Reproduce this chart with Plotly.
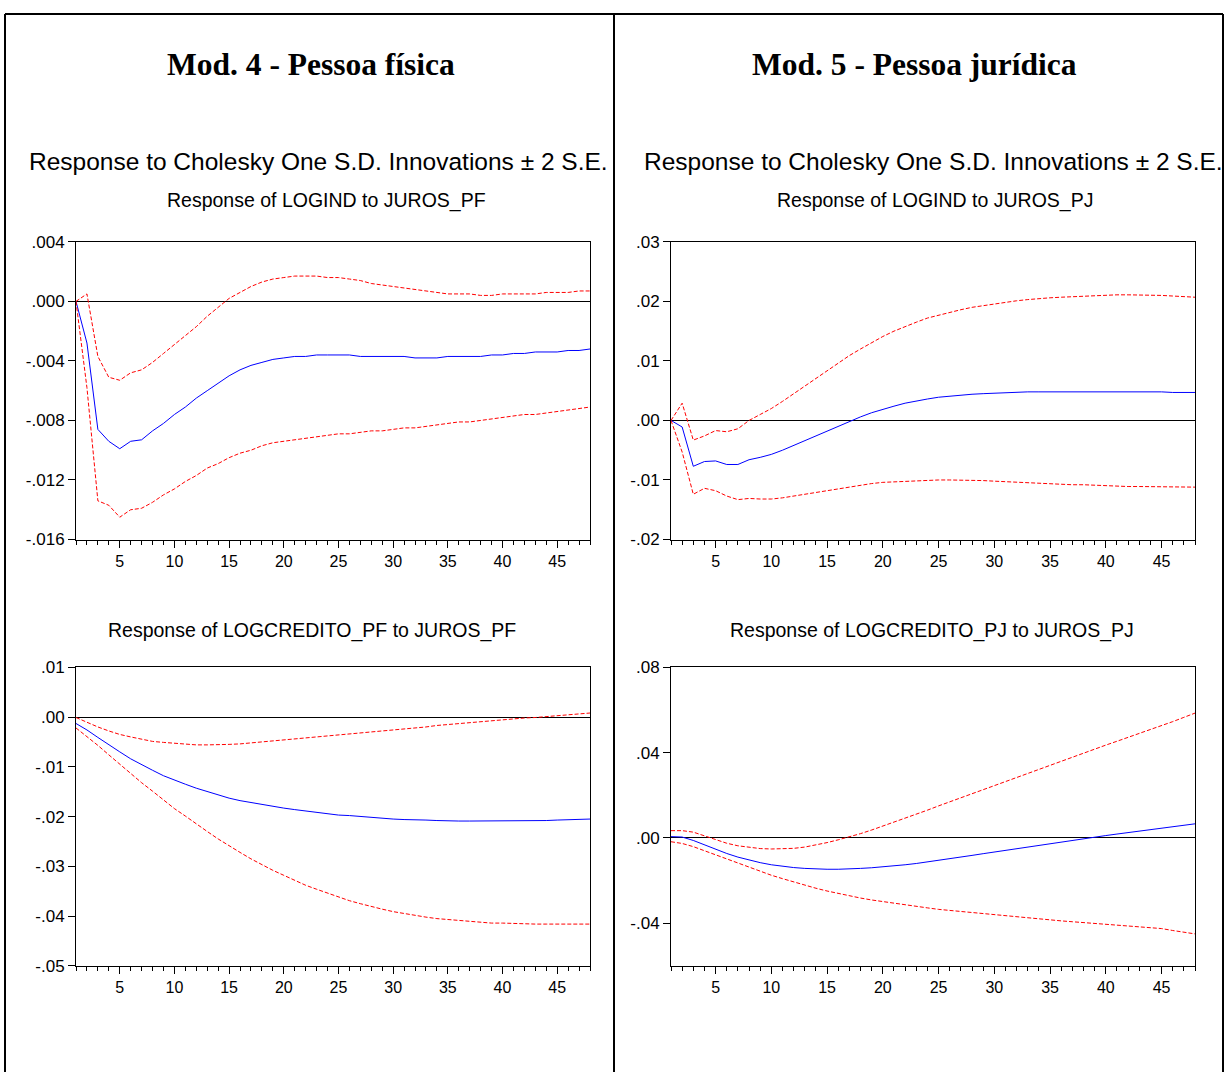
import plotly.graph_objects as go

# ---------------- data ----------------
periods = list(range(1, 49))

# Mod. 4 - Response of LOGIND to JUROS_PF
logind_pf = [0.0000, -0.0028, -0.0086, -0.0094, -0.0099, -0.0094, -0.0093, -0.0087, -0.0082, -0.0076,
             -0.0071, -0.0065, -0.0060, -0.0055, -0.0050, -0.0046, -0.0043, -0.0041, -0.0039, -0.0038,
             -0.0037, -0.0037, -0.0036, -0.0036, -0.0036, -0.0036, -0.0037, -0.0037, -0.0037, -0.0037,
             -0.0037, -0.0038, -0.0038, -0.0038, -0.0037, -0.0037, -0.0037, -0.0037, -0.0036, -0.0036,
             -0.0035, -0.0035, -0.0034, -0.0034, -0.0034, -0.0033, -0.0033, -0.0032]
logind_pf_up = [0.0000, 0.0005, -0.0037, -0.0051, -0.0053, -0.0048, -0.0046, -0.0041, -0.0035, -0.0029,
                -0.0023, -0.0017, -0.0010, -0.0004, 0.0002, 0.0006, 0.0010, 0.0013, 0.0015, 0.0016,
                0.0017, 0.0017, 0.0017, 0.0016, 0.0016, 0.0015, 0.0014, 0.0012, 0.0011, 0.0010,
                0.0009, 0.0008, 0.0007, 0.0006, 0.0005, 0.0005, 0.0005, 0.0004, 0.0004, 0.0005,
                0.0005, 0.0005, 0.0005, 0.0006, 0.0006, 0.0006, 0.0007, 0.0007]
logind_pf_lo = [0.0000, -0.0058, -0.0134, -0.0137, -0.0145, -0.0140, -0.0139, -0.0135, -0.0130, -0.0126,
                -0.0121, -0.0117, -0.0112, -0.0109, -0.0105, -0.0102, -0.0100, -0.0097, -0.0095, -0.0094,
                -0.0093, -0.0092, -0.0091, -0.0090, -0.0089, -0.0089, -0.0088, -0.0087, -0.0087, -0.0086,
                -0.0085, -0.0085, -0.0084, -0.0083, -0.0082, -0.0081, -0.0081, -0.0080, -0.0079, -0.0078,
                -0.0077, -0.0076, -0.0076, -0.0075, -0.0074, -0.0073, -0.0072, -0.0071]

# Mod. 5 - Response of LOGIND to JUROS_PJ
logind_pj = [0.0000, -0.0011, -0.0077, -0.0069, -0.0068, -0.0074, -0.0074, -0.0066, -0.0062, -0.0057,
             -0.0050, -0.0042, -0.0034, -0.0026, -0.0018, -0.0009, -0.0001, 0.0006, 0.0013, 0.0019,
             0.0024, 0.0029, 0.0033, 0.0036, 0.0039, 0.0041, 0.0043, 0.0044, 0.0045, 0.0046,
             0.0047, 0.0047, 0.0048, 0.0048, 0.0048, 0.0048, 0.0049, 0.0049, 0.0049, 0.0049,
             0.0048, 0.0048, 0.0048, 0.0048, 0.0048, 0.0047, 0.0047, 0.0047]
logind_pj_up = [0.0000, 0.0029, -0.0033, -0.0026, -0.0017, -0.0019, -0.0014, 0.0000, 0.0010, 0.0020,
                0.0032, 0.0045, 0.0058, 0.0071, 0.0084, 0.0097, 0.0109, 0.0120, 0.0131, 0.0141,
                0.0150, 0.0158, 0.0165, 0.0172, 0.0177, 0.0182, 0.0186, 0.0190, 0.0193, 0.0196,
                0.0199, 0.0201, 0.0203, 0.0205, 0.0206, 0.0207, 0.0208, 0.0209, 0.0210, 0.0210,
                0.0211, 0.0211, 0.0211, 0.0210, 0.0210, 0.0209, 0.0208, 0.0207]
logind_pj_lo = [0.0000, -0.0053, -0.0124, -0.0114, -0.0118, -0.0127, -0.0133, -0.0131, -0.0132, -0.0132,
                -0.0130, -0.0127, -0.0124, -0.0121, -0.0117, -0.0114, -0.0111, -0.0109, -0.0106, -0.0104,
                -0.0103, -0.0102, -0.0101, -0.0100, -0.0100, -0.0100, -0.0100, -0.0101, -0.0101, -0.0102,
                -0.0103, -0.0104, -0.0104, -0.0105, -0.0106, -0.0107, -0.0108, -0.0108, -0.0109, -0.0110,
                -0.0110, -0.0111, -0.0111, -0.0111, -0.0112, -0.0112, -0.0112, -0.0112]

# Mod. 4 - Response of LOGCREDITO_PF to JUROS_PF
credito_pf = [-0.0013, -0.0026, -0.0041, -0.0056, -0.0070, -0.0084, -0.0096, -0.0107, -0.0118, -0.0127,
              -0.0135, -0.0143, -0.0150, -0.0157, -0.0163, -0.0168, -0.0172, -0.0176, -0.0180, -0.0183,
              -0.0186, -0.0189, -0.0192, -0.0194, -0.0197, -0.0198, -0.0200, -0.0202, -0.0203, -0.0205,
              -0.0206, -0.0206, -0.0207, -0.0208, -0.0209, -0.0209, -0.0209, -0.0209, -0.0209, -0.0209,
              -0.0209, -0.0208, -0.0208, -0.0208, -0.0207, -0.0206, -0.0206, -0.0205]
credito_pf_up = [-0.0001, -0.0011, -0.0020, -0.0028, -0.0035, -0.0040, -0.0045, -0.0049, -0.0051, -0.0053,
                 -0.0055, -0.0056, -0.0056, -0.0056, -0.0055, -0.0054, -0.0052, -0.0050, -0.0049, -0.0047,
                 -0.0045, -0.0043, -0.0041, -0.0039, -0.0037, -0.0035, -0.0033, -0.0030, -0.0028, -0.0026,
                 -0.0024, -0.0022, -0.0020, -0.0017, -0.0015, -0.0013, -0.0011, -0.0009, -0.0007, -0.0006,
                 -0.0004, -0.0002, -0.0001, 0.0001, 0.0003, 0.0005, 0.0006, 0.0008]
credito_pf_lo = [-0.0022, -0.0039, -0.0057, -0.0076, -0.0095, -0.0113, -0.0132, -0.0149, -0.0167, -0.0184,
                 -0.0199, -0.0215, -0.0230, -0.0245, -0.0259, -0.0272, -0.0285, -0.0297, -0.0308, -0.0318,
                 -0.0328, -0.0338, -0.0346, -0.0354, -0.0362, -0.0369, -0.0375, -0.0381, -0.0386, -0.0391,
                 -0.0395, -0.0399, -0.0402, -0.0405, -0.0407, -0.0409, -0.0411, -0.0413, -0.0414, -0.0414,
                 -0.0415, -0.0415, -0.0416, -0.0416, -0.0416, -0.0416, -0.0416, -0.0416]

# Mod. 5 - Response of LOGCREDITO_PJ to JUROS_PJ
credito_pj = [0.0006, 0.0004, -0.0012, -0.0033, -0.0054, -0.0073, -0.0090, -0.0104, -0.0116, -0.0126,
              -0.0133, -0.0139, -0.0143, -0.0146, -0.0147, -0.0147, -0.0146, -0.0143, -0.0140, -0.0136,
              -0.0131, -0.0126, -0.0120, -0.0113, -0.0106, -0.0098, -0.0090, -0.0082, -0.0074, -0.0066,
              -0.0058, -0.0050, -0.0042, -0.0035, -0.0027, -0.0019, -0.0012, -0.0004, 0.0003, 0.0011,
              0.0018, 0.0025, 0.0032, 0.0039, 0.0045, 0.0052, 0.0059, 0.0066]
credito_pj_up = [0.0034, 0.0034, 0.0027, 0.0010, -0.0010, -0.0025, -0.0037, -0.0045, -0.0050, -0.0052,
                 -0.0052, -0.0049, -0.0043, -0.0034, -0.0022, -0.0009, 0.0005, 0.0020, 0.0037, 0.0055,
                 0.0073, 0.0092, 0.0111, 0.0130, 0.0150, 0.0169, 0.0189, 0.0209, 0.0228, 0.0248,
                 0.0267, 0.0286, 0.0305, 0.0324, 0.0343, 0.0362, 0.0380, 0.0399, 0.0417, 0.0435,
                 0.0453, 0.0471, 0.0489, 0.0507, 0.0525, 0.0545, 0.0565, 0.0585]
credito_pj_lo = [-0.0018, -0.0026, -0.0041, -0.0060, -0.0080, -0.0100, -0.0120, -0.0138, -0.0157, -0.0175,
                 -0.0191, -0.0207, -0.0222, -0.0236, -0.0249, -0.0261, -0.0272, -0.0282, -0.0291, -0.0299,
                 -0.0307, -0.0315, -0.0322, -0.0328, -0.0335, -0.0340, -0.0346, -0.0351, -0.0356, -0.0362,
                 -0.0366, -0.0371, -0.0376, -0.0380, -0.0385, -0.0389, -0.0393, -0.0397, -0.0401, -0.0405,
                 -0.0409, -0.0413, -0.0417, -0.0421, -0.0425, -0.0434, -0.0441, -0.0450]

# tick values / labels
ytick_tl = [0.004, 0.0, -0.004, -0.008, -0.012, -0.016]
ytext_tl = [".004", ".000", "-.004", "-.008", "-.012", "-.016"]
ytick_tr = [0.03, 0.02, 0.01, 0.0, -0.01, -0.02]
ytext_tr = [".03", ".02", ".01", ".00", "-.01", "-.02"]
ytick_bl = [0.01, 0.0, -0.01, -0.02, -0.03, -0.04, -0.05]
ytext_bl = [".01", ".00", "-.01", "-.02", "-.03", "-.04", "-.05"]
ytick_br = [0.08, 0.04, 0.0, -0.04]
ytext_br = [".08", ".04", ".00", "-.04"]

titles_main = ["Mod. 4 - Pessoa física", "Mod. 5 - Pessoa jurídica"]
title_chol = "Response to Cholesky One S.D. Innovations ± 2 S.E."
subtitles = ["Response of LOGIND to JUROS_PF", "Response of LOGIND to JUROS_PJ",
             "Response of LOGCREDITO_PF to JUROS_PF", "Response of LOGCREDITO_PJ to JUROS_PJ"]

# ---------------- layout helpers ----------------
W, H = 1229, 1082
def px(x):
    return x / W
def py(y):
    return 1 - y / H

SANS = "Liberation Sans, Arial, sans-serif"
SERIF = "Liberation Serif, Times New Roman, serif"

panels = [
    (logind_pf, logind_pf_up, logind_pf_lo, (76, 590), (237, 540), (-0.016, 0.004), ytick_tl, ytext_tl),
    (logind_pj, logind_pj_up, logind_pj_lo, (671, 1195), (237, 540), (-0.02, 0.03), ytick_tr, ytext_tr),
    (credito_pf, credito_pf_up, credito_pf_lo, (76, 590), (670, 974), (-0.05, 0.01), ytick_bl, ytext_bl),
    (credito_pj, credito_pj_up, credito_pj_lo, (671, 1195), (670, 974), (-0.06, 0.08), ytick_br, ytext_br),
]

fig = go.Figure()
layout = dict(
    width=W, height=H,
    margin=dict(l=0, r=0, t=0, b=0),
    paper_bgcolor="white", plot_bgcolor="white",
    showlegend=False,
)

for i, (mid, up, lo, xd, yd, yr, yt, ytt) in enumerate(panels, start=1):
    xa = "x" if i == 1 else f"x{i}"
    ya = "y" if i == 1 else f"y{i}"
    for series, color, dash in ((mid, "#0000FF", "solid"), (up, "#FF0000", "4px,2px"), (lo, "#FF0000", "4px,2px")):
        fig.add_trace(go.Scatter(x=periods, y=series, mode="lines", xaxis=xa, yaxis=ya,
                                 line=dict(color=color, width=1, dash=dash), hoverinfo="skip"))
    xkey = "xaxis" if i == 1 else f"xaxis{i}"
    ykey = "yaxis" if i == 1 else f"yaxis{i}"
    layout[xkey] = dict(
        domain=[px(xd[0]), px(xd[1])], range=[1, 48], anchor=ya,
        showgrid=False, zeroline=False, showline=True, mirror=True,
        linecolor="black", linewidth=1,
        tickmode="linear", tick0=0, dtick=5, ticks="outside", ticklen=7, tickwidth=1, tickcolor="black",
        minor=dict(ticks="outside", ticklen=4, tickwidth=1, tickcolor="black", dtick=1, tick0=0, showgrid=False),
        tickfont=dict(family=SANS, size=16, color="black"),
    )
    layout[ykey] = dict(
        domain=[py(yd[1]), py(yd[0])], range=list(yr), anchor=xa,
        showgrid=False, zeroline=True, zerolinecolor="black", zerolinewidth=1,
        showline=True, mirror=True, linecolor="black", linewidth=1,
        tickmode="array", tickvals=yt, ticktext=ytt,
        ticks="outside", ticklen=7, tickwidth=1, tickcolor="black",
        tickfont=dict(family=SANS, size=17, color="black"),
    )

annotations = []
for txt, cx in zip(titles_main, (311, 914)):
    annotations.append(dict(text=f"<b>{txt}</b>", x=px(cx), y=py(56), xref="paper", yref="paper",
                            showarrow=False, xanchor="center", yanchor="middle",
                            font=dict(family=SERIF, size=31.5, color="black")))
for cx in (318, 933):
    annotations.append(dict(text=title_chol, x=px(cx), y=py(155), xref="paper", yref="paper",
                            showarrow=False, xanchor="center", yanchor="middle",
                            font=dict(family=SANS, size=24.5, color="black")))
for txt, (cx, cy) in zip(subtitles, ((326, 195), (935, 195), (312, 633), (932, 633))):
    annotations.append(dict(text=txt, x=px(cx), y=py(cy), xref="paper", yref="paper",
                            showarrow=False, xanchor="center", yanchor="middle",
                            font=dict(family=SANS, size=19.5, color="black")))
layout["annotations"] = annotations

line = dict(color="black", width=2)
layout["shapes"] = [
    dict(type="line", xref="paper", yref="paper", x0=px(5), x1=px(5), y0=py(5), y1=0, line=line),
    dict(type="line", xref="paper", yref="paper", x0=px(5), x1=px(1223), y0=py(5), y1=py(5), line=line),
    dict(type="line", xref="paper", yref="paper", x0=px(1223), x1=px(1223), y0=py(5), y1=0, line=line),
    dict(type="line", xref="paper", yref="paper", x0=px(614), x1=px(614), y0=py(5), y1=0, line=line),
]

fig.update_layout(**layout)
fig.write_html("out.html", config={"displayModeBar": False},
               post_script="document.body.style.margin='0';document.body.style.overflow='hidden';")
